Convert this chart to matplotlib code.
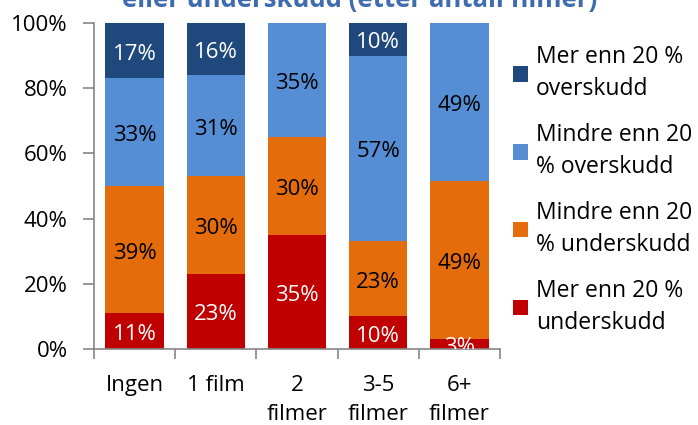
import matplotlib
matplotlib.use("Agg")
import matplotlib.pyplot as plt
import numpy as np

plt.rcParams['font.family'] = ['Open Sans', 'DejaVu Sans']

categories = ["Ingen", "1 film", "2\nfilmer", "3-5\nfilmer", "6+\nfilmer"]
series_names = ["Mer enn 20 %\nunderskudd", "Mindre enn 20\n% underskudd",
                "Mindre enn 20\n% overskudd", "Mer enn 20 %\noverskudd"]
mer_under = [11, 23, 35, 10, 3]
mindre_under = [39, 30, 30, 23, 49]
mindre_over = [33, 31, 35, 57, 49]
mer_over = [17, 16, 0, 10, 0]
y_ticks = [0, 20, 40, 60, 80, 100]

colors = ["#C00000", "#E46C0A", "#558ED5", "#1F497D"]
text_colors = ["white", "black", "black", "white"]

data = np.array([mer_under, mindre_under, mindre_over, mer_over], dtype=float)
totals = data.sum(axis=0)
pct = data / totals * 100

fig = plt.figure(figsize=(6.98, 4.25), dpi=100)
ax = fig.add_axes([94/698, 1-349/425, (500-94)/698, (349-23)/425])

x = np.arange(len(categories))
bottom = np.zeros(len(categories))
handles = []
for i in range(4):
    b = ax.bar(x, pct[i], bottom=bottom, width=0.72, color=colors[i], label=series_names[i], zorder=2)
    handles.append(b)
    for j in range(len(categories)):
        if data[i, j] > 0:
            yc = bottom[j] + pct[i, j] / 2
            t = ax.annotate(f"{int(data[i, j])}%", (x[j], yc), xytext=(0, -2.5),
                            textcoords='offset points', ha='center', va='center',
                            color=text_colors[i], fontsize=16)
            t.set_clip_on(True)
            t.set_clip_box(ax.bbox)
    bottom += pct[i]

ax.set_xlim(-0.5, len(categories) - 0.5)
ax.set_ylim(0, 100)
ax.set_yticks(y_ticks)
ax.set_yticklabels([f"{v}%" for v in y_ticks], fontsize=16)
ax.set_xticks(x)
ax.set_xticklabels(categories, fontsize=16, linespacing=1.45, va='top')
ax.tick_params(axis='x', length=0, pad=19)
ax.set_xticks(np.arange(-0.5, len(categories)), minor=True)
ax.tick_params(axis='x', which='minor', length=7, color='#868686', width=1.2)
ax.tick_params(axis='y', length=8, color='#868686', width=1.2, pad=11)

for s in ['top', 'right']:
    ax.spines[s].set_visible(False)
for s in ['left', 'bottom']:
    ax.spines[s].set_color('#868686')
    ax.spines[s].set_linewidth(1.2)

leg = ax.legend(handles[::-1], series_names[::-1], loc='upper left',
                bbox_to_anchor=(513/698, 1-45/425), bbox_transform=fig.transFigure,
                frameon=False, fontsize=16.5, handlelength=0.65, handleheight=0.65,
                handletextpad=0.35, labelspacing=0.95, borderaxespad=0, borderpad=0)
for txt in leg.get_texts():
    txt.set_linespacing(1.45)

fig.text(360/698, 1-7/425, "eller underskudd (etter antall filmer)", ha='center', va='baseline',
         fontsize=18.5, fontweight='bold', color='#3F6CAF')

fig.savefig("out.png", dpi=100)
